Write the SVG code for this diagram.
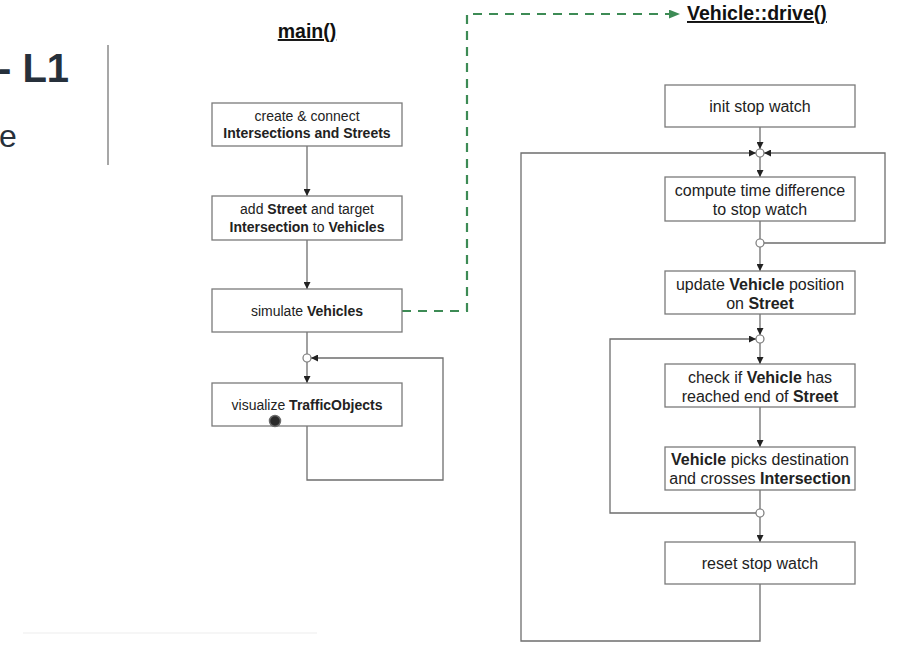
<svg xmlns="http://www.w3.org/2000/svg" width="913" height="655" viewBox="0 0 913 655">
  <style>
    .box { fill: #ffffff; stroke: #7a7a7a; stroke-width: 1.3; }
    .lbl { font-family: "Liberation Sans", Arial, sans-serif; font-size: 14px; fill: #222222; text-anchor: middle; }
    .lbl2 { font-family: "Liberation Sans", Arial, sans-serif; font-size: 16px; fill: #222222; text-anchor: middle; }
    .b { font-weight: bold; }
    .title { font-family: "Liberation Sans", Arial, sans-serif; font-weight: bold; fill: #111111; text-decoration: underline; }
    .wire { fill: none; stroke: #6e6e6e; stroke-width: 1.3; }
    .arr { marker-end: url(#head); }
    .join { fill: #ffffff; stroke: #7a7a7a; stroke-width: 1.2; }
    .call { fill: none; stroke: #3d8b55; stroke-width: 2.2; stroke-dasharray: 9 7; marker-end: url(#greenhead); }
  </style>
  <defs>
    <marker id="head" viewBox="0 0 8 8" refX="8" refY="4" markerWidth="7" markerHeight="7" markerUnits="userSpaceOnUse" orient="auto">
      <path d="M0,0 L8,4 L0,8 z" fill="#222222"/>
    </marker>
    <marker id="greenhead" viewBox="0 0 10 8" refX="10" refY="4" markerWidth="11" markerHeight="9" markerUnits="userSpaceOnUse" orient="auto">
      <path d="M0,0 L10,4 L0,8 z" fill="#3d8b55"/>
    </marker>
  </defs>

  <rect width="913" height="655" fill="#ffffff"/>

  <!-- slide fragment on the left -->
  <g id="slide-edge">
    <text x="-2" y="82" font-family="Liberation Sans, Arial, sans-serif" font-weight="bold" font-size="40" fill="#26303b">- L1</text>
    <text x="-1" y="147" font-family="Liberation Sans, Arial, sans-serif" font-size="32" fill="#26303b">e</text>
    <line x1="108" y1="45" x2="108" y2="165" stroke="#8a8a8a" stroke-width="1.5"/>
    <line x1="23" y1="633" x2="317" y2="633" stroke="#f3f3f3" stroke-width="1.5"/>
  </g>

  <!-- titles -->
  <text id="main-title" class="title" x="307" y="38" font-size="19.5" text-anchor="middle">main()</text>
  <text id="drive-title" class="title" x="687" y="20" font-size="19.5">Vehicle::drive()</text>

  <!-- connectors -->
  <g id="connectors">
    <!-- main() flow -->
    <path class="wire arr" d="M307,146 V196"/>
    <path class="wire arr" d="M307,240 V289"/>
    <path class="wire" d="M307,332 V354"/>
    <path class="wire arr" d="M307,362 V383"/>
    <path class="wire arr" d="M307,426 V480 H443 V358 H311"/>
    <!-- call into Vehicle::drive() -->
    <path class="call" d="M402,311 H467 V14 H680"/>
    <!-- Vehicle::drive() flow -->
    <path class="wire arr" d="M760,127 V149"/>
    <path class="wire arr" d="M760,584 V641 H521 V153 H756"/>
    <path class="wire arr" d="M764,243 H885 V153 H764"/>
    <path class="wire arr" d="M760,157 V177"/>
    <path class="wire" d="M760,221 V239"/>
    <path class="wire arr" d="M760,247 V271"/>
    <path class="wire arr" d="M760,314 V335"/>
    <path class="wire arr" d="M756,513 H610 V339 H756"/>
    <path class="wire arr" d="M760,343 V364"/>
    <path class="wire arr" d="M760,407 V447"/>
    <path class="wire" d="M760,490 V509"/>
    <path class="wire arr" d="M760,517 V542"/>
  </g>

  <!-- junction points -->
  <g id="junctions">
    <circle class="join" cx="307" cy="358" r="4"/>
    <circle class="join" cx="760" cy="153" r="4"/>
    <circle class="join" cx="760" cy="243" r="4"/>
    <circle class="join" cx="760" cy="339" r="4"/>
    <circle class="join" cx="760" cy="513" r="4"/>
  </g>

  <!-- main() nodes -->
  <g id="create">
    <rect class="box" x="212" y="103" width="190" height="43"/>
    <text class="lbl" x="307" y="121">create &amp; connect</text>
    <text class="lbl b" x="307" y="138">Intersections and Streets</text>
  </g>
  <g id="assign">
    <rect class="box" x="212" y="196" width="190" height="44"/>
    <text class="lbl" x="307" y="214">add <tspan class="b">Street</tspan> and target</text>
    <text class="lbl" x="307" y="232"><tspan class="b">Intersection</tspan> to <tspan class="b">Vehicles</tspan></text>
  </g>
  <g id="simulate">
    <rect class="box" x="212" y="289" width="190" height="43"/>
    <text class="lbl" x="307" y="316">simulate <tspan class="b">Vehicles</tspan></text>
  </g>
  <g id="visualize">
    <rect class="box" x="212" y="383" width="190" height="43"/>
    <text class="lbl" x="307" y="410">visualize <tspan class="b">TrafficObjects</tspan></text>
    <circle cx="275" cy="421" r="5.5" fill="#2a2a2a" stroke="#6a6a6a" stroke-width="1.5"/>
  </g>

  <!-- Vehicle::drive() nodes -->
  <g id="init">
    <rect class="box" x="665" y="85" width="190" height="42"/>
    <text class="lbl2" x="760" y="112">init stop watch</text>
  </g>
  <g id="compute">
    <rect class="box" x="665" y="177" width="190" height="44"/>
    <text class="lbl2" x="760" y="196">compute time difference</text>
    <text class="lbl2" x="760" y="215">to stop watch</text>
  </g>
  <g id="update">
    <rect class="box" x="665" y="271" width="190" height="43"/>
    <text class="lbl2" x="760" y="290">update <tspan class="b">Vehicle</tspan> position</text>
    <text class="lbl2" x="760" y="309">on <tspan class="b">Street</tspan></text>
  </g>
  <g id="check">
    <rect class="box" x="665" y="364" width="190" height="43"/>
    <text class="lbl2" x="760" y="383">check if <tspan class="b">Vehicle</tspan> has</text>
    <text class="lbl2" x="760" y="402">reached end of <tspan class="b">Street</tspan></text>
  </g>
  <g id="cross">
    <rect class="box" x="665" y="447" width="190" height="43"/>
    <text class="lbl2" x="760" y="465"><tspan class="b">Vehicle</tspan> picks destination</text>
    <text class="lbl2" x="760" y="484">and crosses <tspan class="b">Intersection</tspan></text>
  </g>
  <g id="reset">
    <rect class="box" x="665" y="542" width="190" height="42"/>
    <text class="lbl2" x="760" y="569">reset stop watch</text>
  </g>
</svg>
